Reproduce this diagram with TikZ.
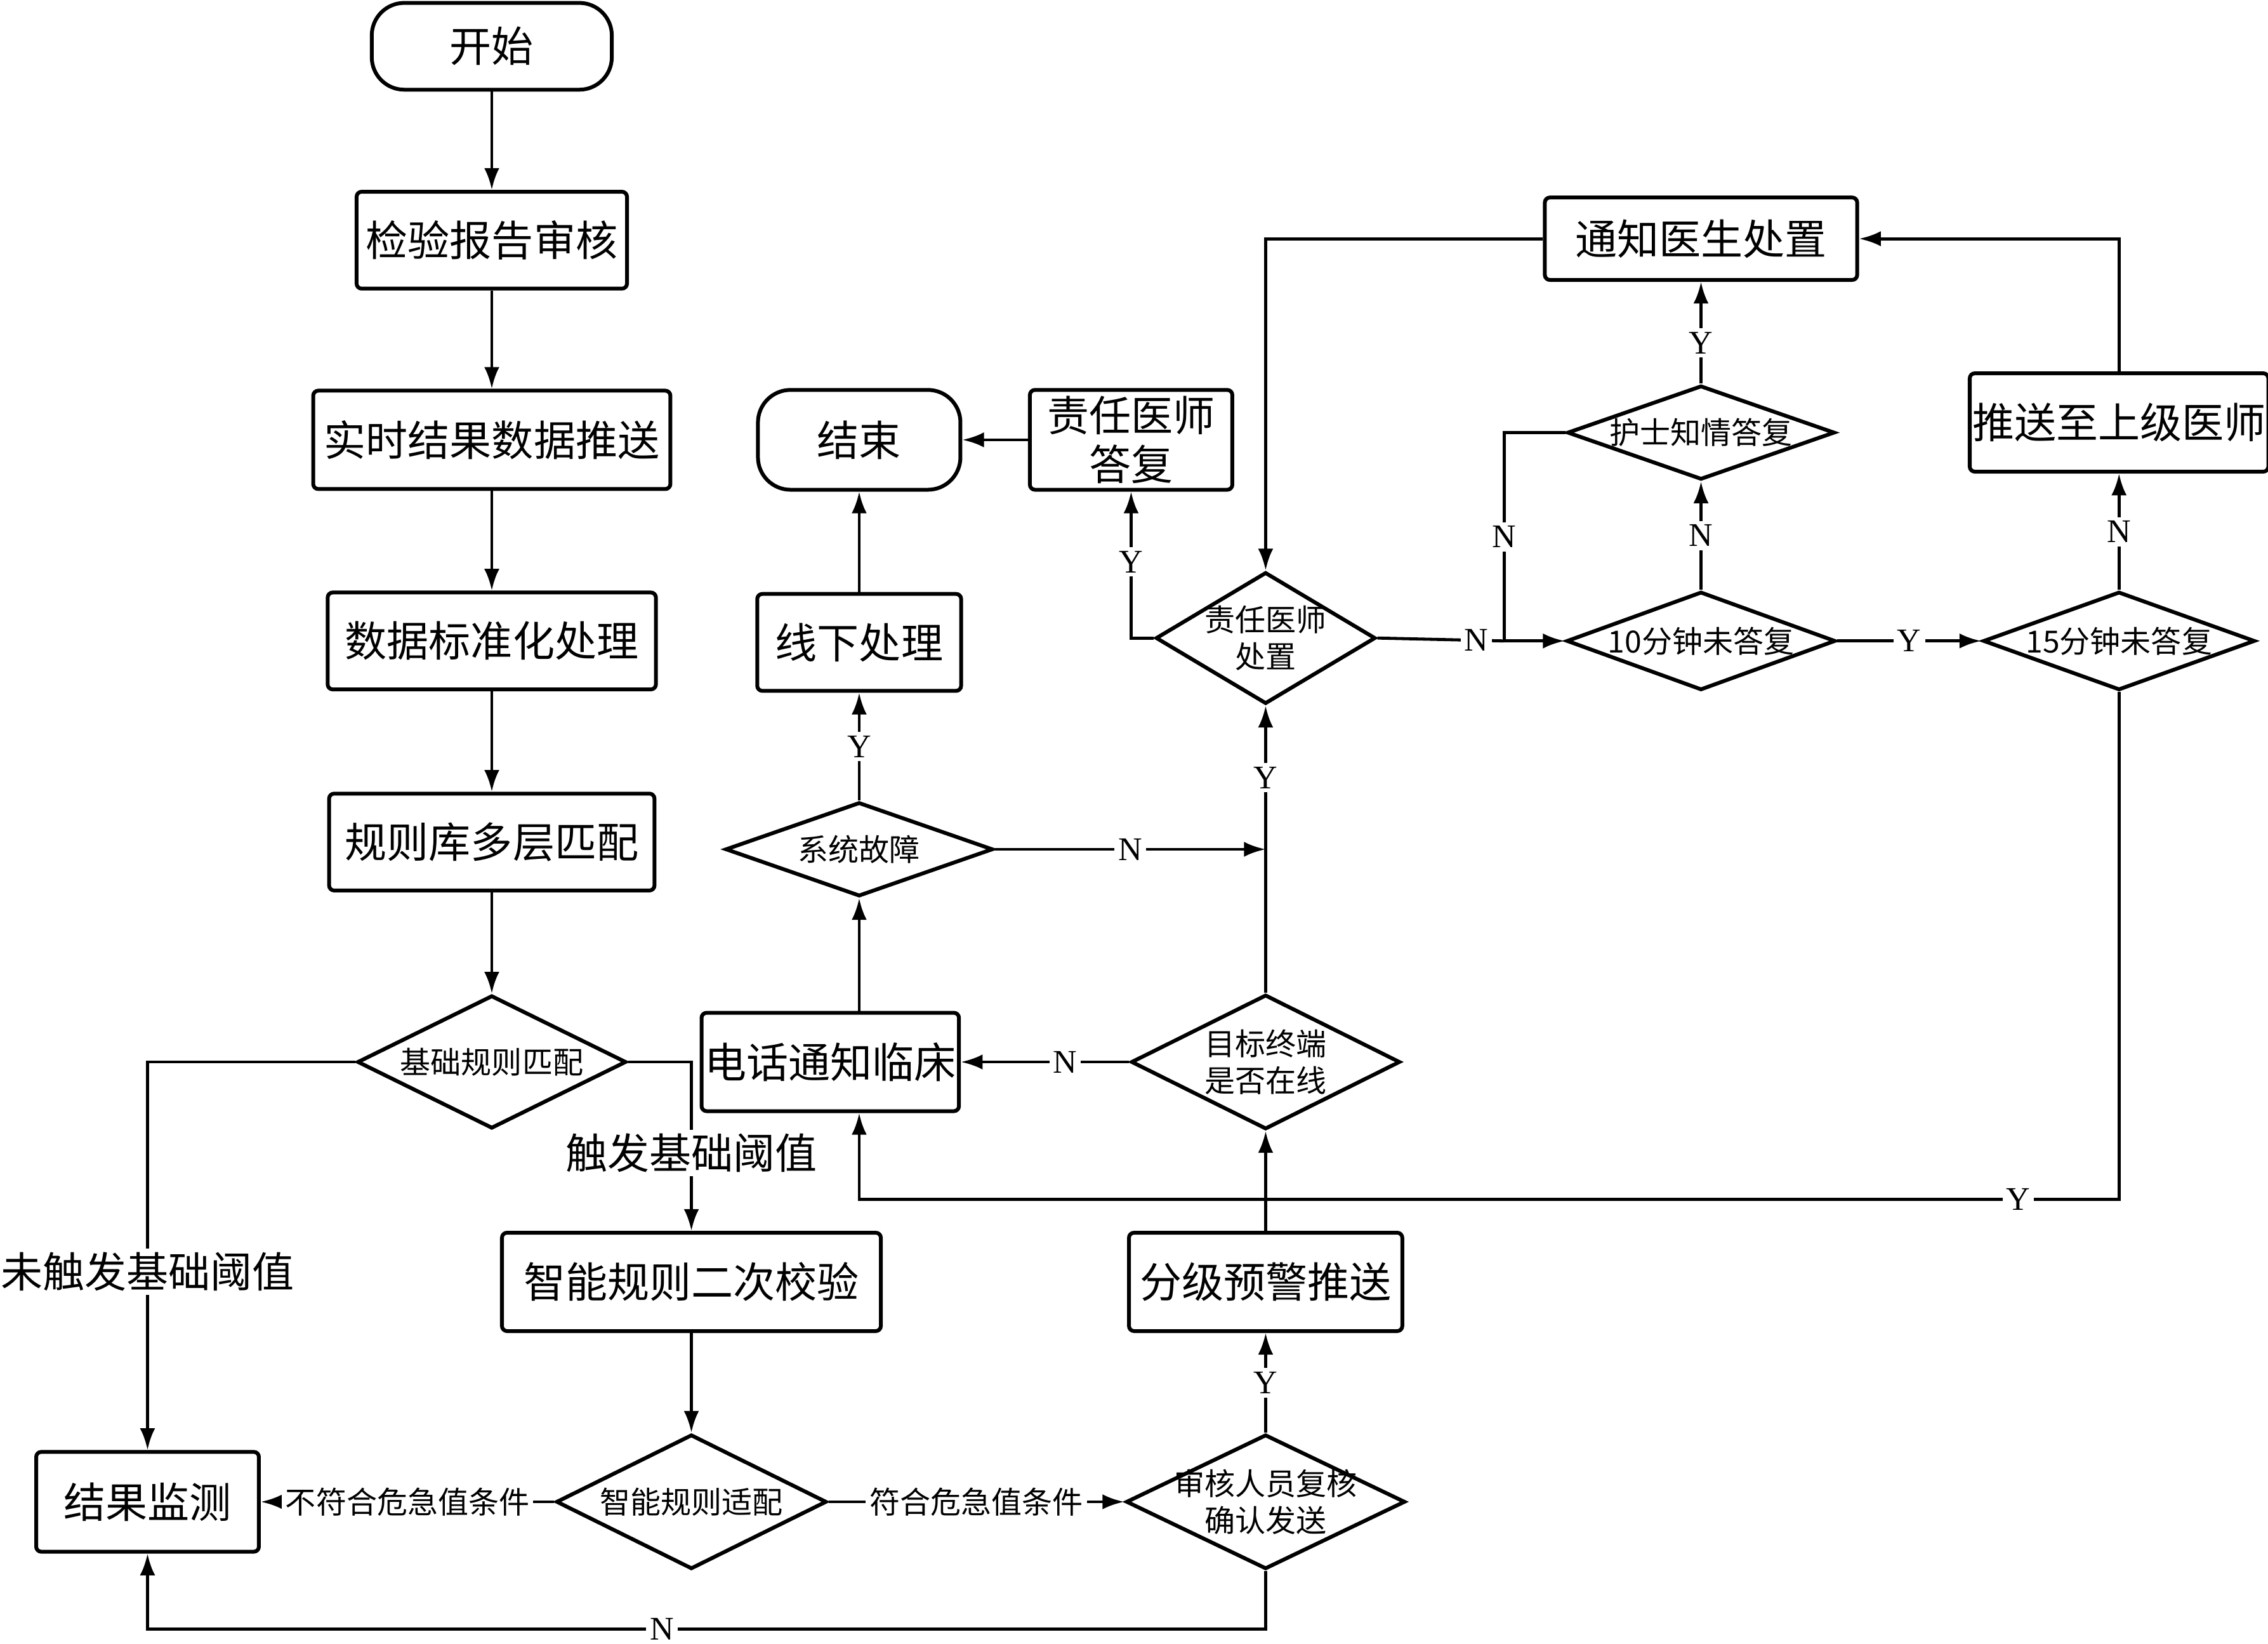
\documentclass[tikz,border=0pt]{standalone}
\usepackage{fontspec}
\usepackage{tikz}
\usetikzlibrary{shapes.geometric, arrows.meta}
\newfontfamily\cjk{Noto Sans CJK SC}
\newfontfamily\ynfont{Liberation Serif}

\begin{document}
\begin{tikzpicture}[x=0.02cm, y=-0.02cm,
    bigtext/.style={font=\cjk\fontsize{16.5}{19}\selectfont},
    smalltext/.style={font=\cjk\fontsize{12}{14.5}\selectfont},
    terminal/.style={draw, line width=1.5pt, rounded corners=0.45cm, bigtext, inner sep=1pt},
    procbox/.style={draw, line width=1.5pt, rounded corners=2pt, bigtext, inner sep=1pt, align=center},
    decide/.style={diamond, draw, line width=1.5pt, inner sep=0pt},
    dtext/.style={smalltext, align=center, inner sep=0pt},
    arr/.style={-{Latex[length=3mm, width=2.1mm]}, line width=1.2pt},
    link/.style={line width=1.2pt},
    yn/.style={font=\ynfont\fontsize{13}{15}\selectfont, fill=white, inner sep=1.5pt},
    cond/.style={smalltext, fill=white, inner sep=1.5pt},
    bigcond/.style={bigtext, fill=white, inner sep=1.5pt}]

    \useasboundingbox (0, 0) rectangle (1568, 1136);

    % Draw left column
    \node (start) at (340, 32) [terminal, minimum width=3.32cm, minimum height=1.2cm] {开始};
    \node (check) at (340, 166) [procbox, minimum width=3.74cm, minimum height=1.34cm] {检验报告审核};
    \node (push) at (340, 304) [procbox, minimum width=4.94cm, minimum height=1.36cm] {实时结果数据推送};
    \node (norm) at (340, 443) [procbox, minimum width=4.54cm, minimum height=1.34cm] {数据标准化处理};
    \node (multi) at (340, 582) [procbox, minimum width=4.5cm, minimum height=1.34cm] {规则库多层匹配};
    \node (basic) at (340, 734) [decide, minimum width=3.72cm, minimum height=1.84cm,
        label={[dtext]center:基础规则匹配}] {};
    \node (monitor) at (102, 1038) [procbox, minimum width=3.08cm, minimum height=1.38cm] {结果监测};
    \node (smart) at (478, 886) [procbox, minimum width=5.24cm, minimum height=1.36cm] {智能规则二次校验};
    \node (fit) at (478, 1038) [decide, minimum width=3.74cm, minimum height=1.86cm,
        label={[dtext]center:智能规则适配}] {};

    % Draw middle column
    \node (review) at (875, 1038) [decide, minimum width=3.86cm, minimum height=1.86cm,
        label={[dtext]center:{审核人员复核\\确认发送}}] {};
    \node (grade) at (875, 886) [procbox, minimum width=3.78cm, minimum height=1.36cm] {分级预警推送};
    \node (online) at (875, 734) [decide, minimum width=3.72cm, minimum height=1.86cm,
        label={[dtext]center:{目标终端\\是否在线}}] {};
    \node (phone) at (574, 734) [procbox, minimum width=3.56cm, minimum height=1.36cm] {电话通知临床};
    \node (fault) at (594, 587) [decide, minimum width=3.7cm, minimum height=1.3cm,
        label={[dtext]center:系统故障}] {};
    \node (offline) at (594, 444) [procbox, minimum width=2.82cm, minimum height=1.34cm] {线下处理};
    \node (finish) at (594, 304) [terminal, minimum width=2.8cm, minimum height=1.38cm] {结束};
    \node (reply) at (782, 304) [procbox, minimum width=2.8cm, minimum height=1.38cm] {责任医师\\答复};
    \node (dispose) at (875, 441) [decide, minimum width=3.04cm, minimum height=1.82cm,
        label={[dtext]center:{责任医师\\处置}}] {};

    % Draw right part
    \node (notify) at (1176, 165) [procbox, minimum width=4.32cm, minimum height=1.14cm] {通知医生处置};
    \node (nurse) at (1176, 299) [decide, minimum width=3.7cm, minimum height=1.3cm,
        label={[dtext]center:护士知情答复}] {};
    \node (min10) at (1176, 443) [decide, minimum width=3.72cm, minimum height=1.36cm,
        label={[dtext]center:10分钟未答复}] {};
    \node (min15) at (1465, 443) [decide, minimum width=3.76cm, minimum height=1.36cm,
        label={[dtext]center:15分钟未答复}] {};
    \node (upper) at (1465, 292) [procbox, minimum width=4.12cm, minimum height=1.36cm] {推送至上级医师};

    \coordinate (join10) at (1040, 443);
    \coordinate (yback) at (594, 829);

    % Draw main flow
    \draw[arr] (start) -- (check);
    \draw[arr] (check) -- (push);
    \draw[arr] (push) -- (norm);
    \draw[arr] (norm) -- (multi);
    \draw[arr] (multi) -- (basic);
    \draw[arr] (basic.west) -| node[bigcond, pos=0.77] {未触发基础阈值} (monitor.north);
    \draw[arr] (basic.east) -| node[bigcond, pos=0.77] {触发基础阈值} (smart.north);
    \draw[arr] (smart) -- (fit);
    \draw[arr] (fit) -- node[cond] {不符合危急值条件} (monitor);
    \draw[arr] (fit) -- node[cond] {符合危急值条件} (review);
    \draw[arr] (review.south) -- ++(0, 40) -| node[yn, pos=0.27] {N} (monitor.south); % back to monitoring
    \draw[arr] (review) -- node[yn] {Y} (grade);
    \draw[arr] (grade) -- (online);
    \draw[arr] (online) -- node[yn, pos=0.38] {N} (phone);
    \draw[arr] (online) -- node[yn, pos=0.75] {Y} (dispose);
    \draw[arr] (phone.north -| fault.south) -- (fault.south);
    \draw[arr] (fault) -- node[yn] {Y} (offline);
    \draw[arr] (fault.east) -- node[yn] {N} (fault.east -| online.north);
    \draw[arr] (offline) -- (finish);
    \draw[arr] (reply) -- (finish);

    % Draw escalation loop
    \draw[arr] (dispose.west) -| node[yn, pos=0.76] {Y} (reply.south);
    \draw[arr] (notify.west) -| (dispose.north);
    \draw[link] (dispose.east) -- node[yn, pos=0.78] {N} (join10);
    \draw[arr] (nurse.west) -| node[yn, pos=0.75] {N} (join10) -- (min10.west);
    \draw[arr] (min10) -- node[yn] {N} (nurse);
    \draw[arr] (nurse) -- node[yn, pos=0.4] {Y} (notify);
    \draw[arr] (min10) -- node[yn] {Y} (min15);
    \draw[arr] (min15) -- node[yn] {N} (upper);
    \draw[arr] (upper.north) |- (notify.east);
    \draw[arr] (min15.south) |- node[yn, pos=0.54] {Y} (yback) -- (phone.south -| yback);

\end{tikzpicture}
\end{document}
